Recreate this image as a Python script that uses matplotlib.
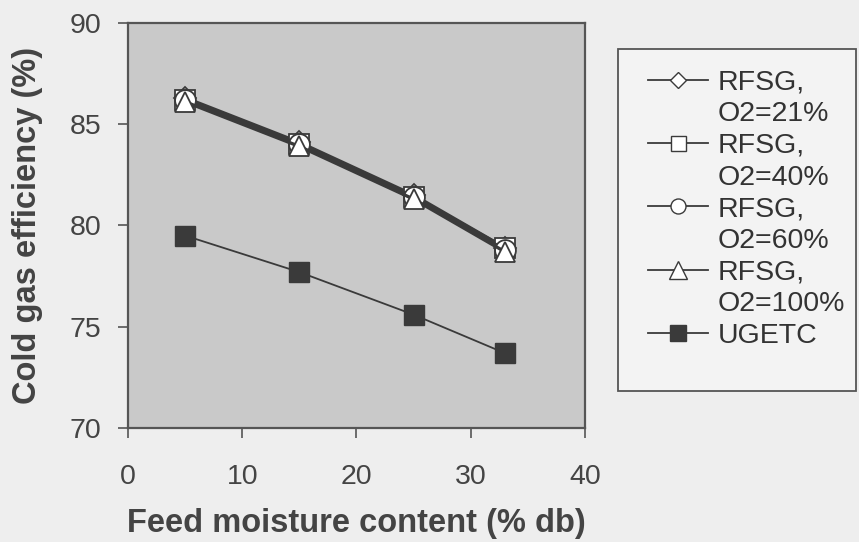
import matplotlib
matplotlib.use("Agg")
import matplotlib.pyplot as plt
from matplotlib.lines import Line2D
from matplotlib.patches import Rectangle

plt.rcParams['font.family'] = ['Liberation Sans', 'DejaVu Sans']

# feed moisture content (% db)
moisture = [5, 15, 25, 33]

# cold gas efficiency (%)
rfsg_21 = [86.3, 84.1, 81.5, 78.9]
rfsg_40 = [86.2, 84.0, 81.4, 78.9]
rfsg_60 = [86.2, 84.0, 81.4, 78.8]
rfsg_100 = [86.1, 83.9, 81.3, 78.7]
ugetc = [79.5, 77.7, 75.6, 73.7]

names = ["RFSG,", "RFSG,", "RFSG,", "RFSG,", "UGETC"]
second_lines = ["O2=21%", "O2=40%", "O2=60%", "O2=100%", None]

fig = plt.figure(figsize=(8.59, 5.42), dpi=100)
fig.patch.set_facecolor('#eeeeee')
ax = fig.add_axes([0.149, 0.210, 0.532, 0.748])
ax.set_facecolor('#c9c9c9')

dark = '#3a3a3a'
series = [rfsg_21, rfsg_40, rfsg_60, rfsg_100]
markers = ['D', 's', 'o', '^']
sizes = [11, 15, 15, 15]
handles = []
for ys, m, ms in zip(series, markers, sizes):
    ax.plot(moisture, ys, '-', color=dark, lw=2.4, marker=m, markersize=ms,
            markerfacecolor='white', markeredgecolor=dark, markeredgewidth=1.3)
    handles.append(Line2D([], [], color=dark, lw=1.3, marker=m,
                          markersize=ms * (0.85 if m == '^' else 0.72),
                          markerfacecolor='white', markeredgecolor=dark))
ax.plot(moisture, ugetc, '-', color=dark, lw=1.3, marker='s', markersize=15,
        markerfacecolor=dark, markeredgecolor=dark)
handles.append(Line2D([], [], color=dark, lw=1.3, marker='s', markersize=11,
                      markerfacecolor=dark, markeredgecolor=dark))

ax.set_xlim(0, 40)
ax.set_ylim(70, 90)
ax.set_xticks([0, 10, 20, 30, 40])
ax.set_yticks([70, 75, 80, 85, 90])
ax.tick_params(labelsize=20.5, colors='#555555', labelcolor='#444444', length=7, width=1.2)
ax.tick_params(axis='x', pad=19)
ax.tick_params(axis='y', pad=12)
for s in ax.spines.values():
    s.set_color('#555555')
    s.set_linewidth(1.6)

ax.set_xlabel('Feed moisture content (% db)', fontsize=23.5, fontweight='bold', color='#444444', labelpad=13)
ax.set_ylabel('Cold gas efficiency (%)', fontsize=23.5, fontweight='bold', color='#444444', labelpad=19)

# legend: second line of each RFSG label sits under the name, without a handle
leg_handles, leg_labels = [], []
for h, n, s2 in zip(handles, names, second_lines):
    leg_handles.append(h)
    leg_labels.append(n)
    if s2:
        leg_handles.append(Line2D([], [], color='none'))
        leg_labels.append(s2)

fig.patches.append(Rectangle((0.7195, 0.279), 0.277, 0.631, transform=fig.transFigure,
                             facecolor='#f3f3f3', edgecolor='#555555', lw=1.3, zorder=0))
leg = fig.legend(leg_handles, leg_labels, loc='upper left', bbox_to_anchor=(0.7375, 0.898),
                 fontsize=20.5, frameon=False, handlelength=2.1, handletextpad=0.35,
                 labelspacing=0.2, borderpad=0)
for t in leg.get_texts():
    t.set_color('#333333')

fig.savefig('out.png', dpi=100, facecolor=fig.get_facecolor())
